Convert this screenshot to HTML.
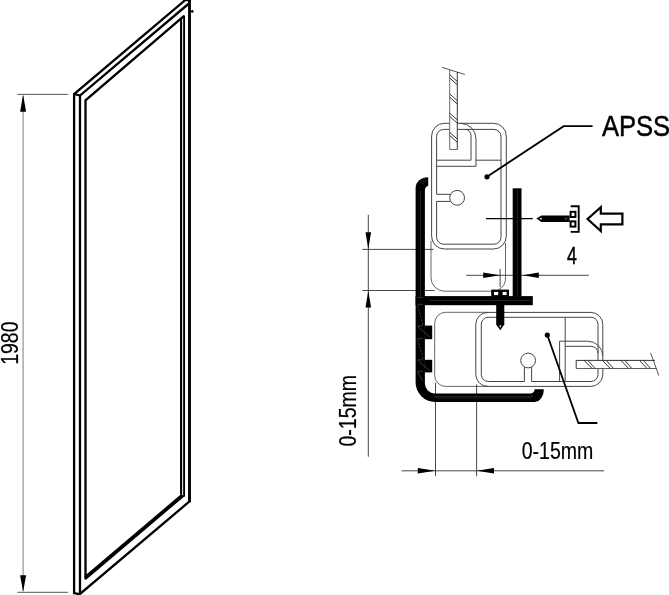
<!DOCTYPE html>
<html>
<head>
<meta charset="utf-8">
<title>APSS 1980</title>
<style>
html,body{margin:0;padding:0;background:#fff;}
body{width:669px;height:595px;overflow:hidden;}
svg{display:block;will-change:transform;}
text{font-family:"Liberation Sans",Arial,sans-serif;fill:#000;stroke:#000;stroke-width:0.2px;}
</style>
</head>
<body>
<svg width="669" height="595" viewBox="0 0 669 595">
<rect x="0" y="0" width="669" height="595" fill="#fff"/>

<!-- ================= LEFT: panel ================= -->
<g id="panel" fill="none" stroke="#000" stroke-width="2.3" stroke-linejoin="miter" stroke-linecap="butt">
  <!-- outer edge -->
  <path d="M74.1,593.5 L74.1,94 L186.3,-0.8"/>
  <!-- front face -->
  <path d="M80,95.6 L80,594 L189.5,501.4"/>
  <path d="M74.1,94 L80,95.6 L189.5,3"/>
  <path d="M73.1,592.8 L80,594.4" />
  <path d="M189.5,-1 L189.5,502.2" stroke-width="2.9"/>
  <path d="M183,0.4 L191,0.4" stroke-width="1.6"/>
  <!-- inner frame -->
  <path d="M85.5,579.5 L85.5,100.4 L184.1,15.9" />
  <path d="M181.1,18.6 L181.1,494.4" stroke-width="2.1"/>
  <path d="M184.1,15.4 L184.1,496.8" stroke-width="1.9"/>
  <path d="M85.5,577.8 L182.8,495.2" stroke-width="3.8"/>
</g>
<circle cx="192.3" cy="11.4" r="1.3" fill="#000"/>

<!-- 1980 dimension -->
<g fill="none" stroke="#444" stroke-width="0.9">
  <path d="M17.3,94.4 H68.2"/>
  <path d="M17.3,592.3 H68.2"/>
</g>
<path d="M23.1,96 V591" fill="none" stroke="#8a8a8a" stroke-width="1.1"/>
<path d="M23.1,94.6 L20.1,111.8 L26.1,111.8 Z" fill="#000"/>
<path d="M23.1,592.1 L20.1,575.2 L26.1,575.2 Z" fill="#000"/>
<text id="t1980" transform="translate(17.7,364.8) rotate(-90) scale(0.825,1)" font-size="23.6" x="0" y="0">1980</text>

<!-- ================= RIGHT: section detail ================= -->
<!-- ghost (adjusted) position of upper profile -->
<g id="ghostUpper" fill="none" stroke="#555" stroke-width="0.9">
  <path d="M431,241 V277.7 A13.5,13.5 0 0 0 444.5,291.2 H491.2"/>
  <path d="M505.5,243 V276.6 A13.5,13.5 0 0 1 498.2,289.9"/>
</g>

<!-- upper profile (APSS) -->
<g id="upperProfile" fill="none" stroke="#444" stroke-width="1">
  <rect x="431.6" y="123.3" width="74.7" height="125.7" rx="12.8" ry="12.8"/>
  <!-- inner perimeter -->
  <path d="M436.6,194.3 V136.4 A7,7 0 0 1 443.6,129.4 H494 A7,7 0 0 1 501,136.4 V237.2 A7,7 0 0 1 494,244.2 H443.6 A7,7 0 0 1 436.6,237.2 V201.4"/>
  <!-- glass cavity -->
  <path d="M465,129.4 A6,6 0 0 1 471,135.4 V160.2 H436.6"/>
  <path d="M460.5,123.3 A15.5,15.5 0 0 1 476,138.8 V166.3 H436.6"/>
  <path d="M476,160.2 H501"/>
  <!-- screw port -->
  <path d="M436.6,194.3 H450.6 M436.6,201.4 H450.6"/>
  <circle cx="457.1" cy="197.8" r="7.4"/>
</g>

<!-- upper glass -->
<g id="upperGlass">
  <rect x="449.7" y="70" width="7.6" height="79.5" fill="#fff" stroke="none"/>
  <g fill="none" stroke="#2a2a2a" stroke-width="0.95">
    <path d="M449.7,69.8 V149.5 H457.3" stroke="#666"/>
    <path d="M457.3,72 V149.5"/>
    <path d="M442.2,67.4 L464.9,74.5" stroke-width="0.8"/>
    <path d="M449.7,74.7 L457.3,81.5 M449.7,78 L457.3,84.8"/>
    <path d="M449.7,93.9 L457.3,100.7 M449.7,97.2 L457.3,104"/>
    <path d="M449.7,113.1 L457.3,119.9 M449.7,116.4 L457.3,123.2"/>
    <path d="M449.7,132.3 L457.3,139.1 M449.7,135.6 L457.3,142.4"/>
  </g>
</g>

<!-- ghost (adjusted) position of lower profile -->
<g id="ghostLower" fill="none" stroke="#555" stroke-width="0.9">
  <path d="M488,312.3 H445.7 A11,11 0 0 0 434.7,323.3 V375.4 A11,11 0 0 0 445.7,386.4 H488"/>
</g>

<!-- lower profile -->
<g id="lowerProfile" fill="none" stroke="#444" stroke-width="1">
  <rect x="475.8" y="312.4" width="127" height="74" rx="12" ry="12"/>
  <path d="M524.4,381.5 H488.3 A7,7 0 0 1 481.3,374.5 V324.3 A7,7 0 0 1 488.3,317.3 H591 A7,7 0 0 1 598,324.3 V353.3"/>
  <path d="M531.6,381.5 H591 A7,7 0 0 0 598,374.5 V353.3 A7,7 0 0 0 591,346.3 H565.2"/>
  <path d="M565.2,317.3 V381.5"/>
  <path d="M559.6,381.5 V341.2 H587.8 A15,15 0 0 1 602.8,356.2"/>
  <path d="M524.4,381.5 V367 M531.6,381.5 V367"/>
  <circle cx="528.1" cy="360.5" r="7.4"/>
</g>

<!-- lower glass -->
<g id="lowerGlass">
  <rect x="576.2" y="360.4" width="79" height="8.1" fill="#fff" stroke="none"/>
  <g fill="none" stroke="#2a2a2a" stroke-width="0.95">
    <path d="M655,360.4 H576.2 V368.5"/>
    <path d="M576.2,368.5 H656.5" stroke="#555"/>
    <path d="M650.6,353 L658.8,375.5" stroke-width="0.8"/>
    <path d="M584,360.4 L592.2,368.5 M587.8,360.4 L595.1,368.5"/>
    <path d="M602.4,360.4 L610.3,368.5 M606.2,360.4 L613.6,368.5"/>
    <path d="M621,360.4 L628.6,368.5 M624.8,360.4 L631.9,368.5"/>
    <path d="M639.5,360.4 L647,368.5 M643.4,360.4 L650.6,368.5"/>
  </g>
</g>

<!-- ================= dimensions / leaders ================= -->
<g id="dims" fill="none" stroke="#333" stroke-width="0.9">
  <!-- left vertical dimension -->
  <path d="M368.3,214.8 V456.8"/>
  <path d="M362.3,249.4 H433.6"/>
  <path d="M362.3,290.5 H434.7"/>
  <!-- "4" dimension -->
  <path d="M466.2,275.3 H588.8"/>
  <path d="M500.1,269 V287.2"/>
  <!-- bottom dimension -->
  <path d="M401.5,470.8 H604"/>
  <path d="M435.5,382.8 V476.2 M476.6,384.4 V476.2"/>
</g>
<!-- black frame (mounting profile) -->
<g id="frame" fill="#000" stroke="none">
  <!-- left vertical with hook on top, bottom curve, bottom bar with hook -->
  <path d="M415.6,188.5 C415.6,181.5 421,177.2 428.2,177.2 L428.2,185.8 C426,186.4 424.9,188 424.9,190.5
           L424.9,383.4 A10,10 0 0 0 434.9,393.4 L530.5,393.4 C533.2,393.4 534.4,391.8 534.6,389.3 L543.8,389.3
           C543.8,396.4 540,401.9 534.5,401.9 L435.1,401.9 A19.5,19.5 0 0 1 415.6,382.4 Z"/>
  <rect x="415.6" y="296.1" width="117.2" height="9.1"/>
  <rect x="512.7" y="188.3" width="8.8" height="108.5"/>
  <rect x="424.5" y="325.6" width="7.7" height="13.6"/>
  <rect x="424.5" y="359.8" width="7.7" height="12.6"/>
  <!-- vertical screw -->
  <rect x="491.2" y="289.6" width="17.8" height="7"/>
  <path d="M496.2,296 H504.3 V324.6 L500.3,330.3 L496.2,324.6 Z"/>
</g>
<g fill="#fff" stroke="none">
  <rect x="494" y="291.9" width="4.2" height="3.2"/>
  <rect x="502.6" y="291.9" width="4" height="3.2"/>
  <path d="M499.2,325.6 L500.3,327.8 L501.4,325.6 Z"/>
</g>

<!-- fine detail lines inside the black profile -->
<g id="frameDetail" fill="none" stroke="#a0a0a0" stroke-width="0.38">
  <path d="M417.6,297.3 H422.9 M417.6,304.3 H422.9 M417.6,326 H422.9 M417.6,338.6 H422.9 M417.6,359.8 H422.9 M417.6,371.3 H422.9"/>
  <path d="M417.6,305.5 L422.9,325" stroke-dasharray="2.4 1.2"/>
  <path d="M417.6,339.4 L422.9,359" stroke-dasharray="2.4 1.2"/>
  <path d="M417.6,326.6 L429.7,336.8 M417.6,360.5 L429.7,370.5 M417.6,372 L422.9,381"/>
</g>
<g fill="none" stroke="#4a4a4a" stroke-width="0.5">
  <path d="M420.4,191 V296 M517.3,190 V296 M430,300.6 H531"/>
  <path d="M434,396.6 H533" stroke="#5a5a5a"/>
  <path d="M437,398.2 H531" stroke="#3a3a3a"/>
  <path d="M419,181.5 L424,184 M420.5,179.8 L425.6,182.6 M422.5,178.6 L427,181" stroke="#555" stroke-width="0.4"/>
</g>

<g id="arrows" fill="#000" stroke="none">
  <path d="M368.3,249.2 L365.5,232.3 L371.1,232.3 Z"/>
  <path d="M368.3,290.8 L365.5,307.6 L371.1,307.6 Z"/>
  <path d="M500,275.3 L483.2,272.6 L483.2,278 Z"/>
  <path d="M522.5,275.3 L538.8,272.6 L538.8,278 Z"/>
  <path d="M435.3,470.8 L417.8,468 L417.8,473.6 Z"/>
  <path d="M476.8,470.8 L494,468 L494,473.6 Z"/>
</g>

<!-- leaders -->
<g fill="none" stroke="#000" stroke-width="1.8" stroke-linejoin="miter">
  <path d="M487,176.8 L563.7,126.2 H592.6"/>
  <path d="M547.3,335 L578.4,423 H597.4"/>
  <path d="M486,218.7 H532.8" stroke-width="1.3"/>
</g>
<circle cx="487" cy="176.8" r="2.6" fill="#000"/>
<circle cx="547.3" cy="335" r="2.6" fill="#000"/>

<!-- horizontal screw with cap -->
<g id="hscrew">
  <path d="M536.3,218.6 L541.4,215.4 H569.6 V221.9 H541.4 Z" fill="#000"/>
  <path d="M539.4,218.6 L541.6,217.4 V219.8 Z" fill="#fff"/>
  <path d="M564.6,217.6 L566,219.8 L567.4,217.6" fill="none" stroke="#aaa" stroke-width="0.5"/>
  <g fill="#fff" stroke="#000" stroke-width="2">
    <rect x="570.6" y="211.8" width="4.8" height="5.2"/>
    <rect x="570.6" y="221.4" width="4.8" height="5.2"/>
  </g>
  <path d="M570.7,206.2 H578.7 V231.9 H570.7" fill="none" stroke="#000" stroke-width="1.9"/>
  <!-- hollow arrow -->
  <path d="M587.6,219 L600.8,207.2 V213.6 H622.4 V224.3 H600.8 V231 Z" fill="#fff" stroke="#000" stroke-width="2.2" stroke-linejoin="miter"/>
</g>

<!-- texts -->
<text id="tAPSS" style="stroke-width:0.5px" transform="translate(601.9,136.4) scale(0.853,1)" font-size="30">APSS</text>
<text id="t4" style="stroke-width:0.45px" transform="translate(567.05,263.9) scale(0.72,1)" font-size="24.6">4</text>
<text id="tH" transform="translate(521.7,459.1) scale(0.828,1)" font-size="23.6">0-15mm</text>
<text id="tV" transform="translate(356.4,446.6) rotate(-90) scale(0.828,1)" font-size="23.6">0-15mm</text>

</svg>
</body>
</html>
